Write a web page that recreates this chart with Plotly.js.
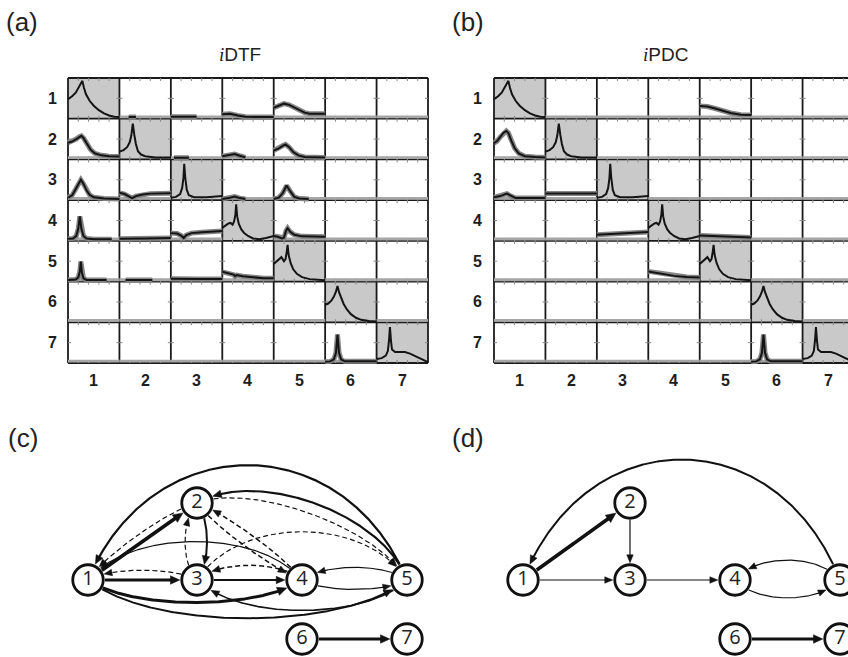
<!DOCTYPE html>
<html><head><meta charset="utf-8">
<script src="https://cdn.plot.ly/plotly-3.0.1.min.js"></script>
<style>html,body{margin:0;padding:0;background:#fff}#chart{width:848px;height:657px}</style>
</head><body><div id="chart"></div>
<script>
// ---------- DATA : spectra per cell, [frequency fraction, value] ----------
const rowLabels = ['1','2','3','4','5','6','7'];
const colLabels = ['1','2','3','4','5','6','7'];

// auto-spectra (diagonal cells, same in both panels)
const auto1 = [[0,.48],[.08,.55],[.15,.64],[.2,.74],[.24,.83],[.28,.93],[.31,.76],[.35,.6],[.42,.44],[.5,.32],[.6,.21],[.7,.13],[.8,.08],[.9,.05],[1,.04]];
const auto2 = [[0,.19],[.08,.23],[.15,.3],[.2,.42],[.23,.58],[.26,.88],[.29,.6],[.32,.38],[.36,.2],[.42,.12],[.5,.08],[.7,.05],[1,.05]];
const auto3 = [[0,.06],[.1,.08],[.18,.15],[.22,.3],[.245,.55],[.26,.89],[.28,.55],[.31,.25],[.35,.12],[.45,.07],[.7,.07],[1,.1]];
const auto4 = [[0,.32],[.06,.37],[.12,.43],[.16,.44],[.2,.4],[.23,.48],[.255,.65],[.27,.9],[.29,.6],[.32,.42],[.37,.28],[.42,.2],[.5,.12],[.6,.06],[.72,.04],[.85,.07],[1,.12]];
const auto5 = [[0,.43],[.06,.5],[.12,.58],[.15,.6],[.2,.5],[.23,.55],[.255,.75],[.27,.9],[.29,.65],[.33,.45],[.38,.3],[.45,.19],[.55,.11],[.7,.06],[1,.03]];
const auto6 = [[0,.43],[.06,.46],[.12,.53],[.17,.63],[.21,.75],[.24,.89],[.27,.74],[.31,.6],[.36,.45],[.42,.32],[.5,.2],[.6,.11],[.7,.06],[.85,.03],[1,.02]];
const auto7 = [[0,.1],[.1,.12],[.18,.18],[.22,.3],[.245,.6],[.26,.88],[.28,.55],[.3,.33],[.36,.27],[.45,.27],[.55,.27],[.65,.23],[.75,.17],[.85,.1],[1,.02]];

// iDTF off-diagonal
const dtf_1_2 = [[.18,.04],[.32,.04]];
const dtf_1_3 = [[0,.05],[.5,.05]];
const dtf_1_4 = [[0,.11],[.15,.12],[.3,.08],[.45,.05],[.7,.04],[1,.04]];
const dtf_1_5 = [[0,.27],[.1,.33],[.2,.37],[.3,.34],[.4,.27],[.5,.2],[.6,.15],[.7,.12],[1,.12]];
const dtf_2_1 = [[0,.41],[.08,.44],[.16,.5],[.22,.56],[.26,.58],[.3,.53],[.36,.4],[.44,.24],[.52,.15],[.65,.1],[.8,.08],[1,.07]];
const dtf_2_3 = [[.06,.04],[.35,.04]];
const dtf_2_4 = [[0,.08],[.12,.1],[.24,.13],[.34,.09],[.45,.05]];
const dtf_2_5 = [[0,.22],[.1,.27],[.18,.34],[.23,.37],[.3,.3],[.38,.18],[.48,.1],[.6,.06],[1,.05]];
const dtf_3_1 = [[0,.06],[.08,.12],[.14,.25],[.2,.4],[.25,.5],[.3,.4],[.36,.24],[.42,.13],[.5,.07],[.7,.04],[1,.03]];
const dtf_3_2 = [[0,.18],[.1,.15],[.2,.08],[.25,.05],[.32,.1],[.45,.14],[.6,.16],[1,.17]];
const dtf_3_4 = [[0,.03],[.12,.05],[.24,.09],[.34,.05],[.45,.03]];
const dtf_3_5 = [[0,.03],[.1,.06],[.18,.18],[.25,.36],[.32,.22],[.4,.08],[.5,.04],[.68,.03]];
const dtf_4_1 = [[0,.05],[.1,.06],[.16,.12],[.2,.3],[.23,.6],[.26,.3],[.3,.12],[.36,.06],[.5,.04],[.85,.04]];
const dtf_4_2 = [[0,.05],[.2,.05],[.5,.06],[1,.07]];
const dtf_4_3 = [[0,.19],[.12,.18],[.2,.13],[.25,.07],[.3,.14],[.4,.19],[.6,.21],[1,.24]];
const dtf_4_5 = [[0,.12],[.08,.1],[.16,.06],[.2,.08],[.24,.25],[.27,.31],[.32,.22],[.4,.15],[.55,.11],[1,.1]];
const dtf_5_1 = [[0,.04],[.15,.05],[.2,.1],[.23,.25],[.25,.49],[.27,.22],[.3,.08],[.36,.04],[.75,.04]];
const dtf_5_2 = [[.12,.04],[.64,.04]];
const dtf_5_3 = [[0,.07],[.2,.06],[.5,.06],[1,.06]];
const dtf_5_4 = [[0,.24],[.12,.21],[.22,.17],[.25,.13],[.28,.16],[.4,.13],[.6,.1],[.8,.08],[1,.08]];
const dtf_7_6 = [[0,.03],[.1,.04],[.17,.09],[.21,.25],[.24,.7],[.27,.25],[.31,.09],[.38,.04],[1,.04]];

// iPDC off-diagonal
const pdc_1_5 = [[0,.31],[.15,.3],[.3,.25],[.45,.19],[.6,.14],[.8,.1],[1,.09]];
const pdc_2_1 = [[0,.4],[.06,.45],[.12,.55],[.18,.65],[.24,.7],[.28,.65],[.34,.45],[.4,.28],[.48,.15],[.6,.08],[.8,.06],[1,.05]];
const pdc_3_1 = [[0,.07],[.12,.1],[.25,.16],[.33,.1],[.42,.05],[1,.05]];
const pdc_3_2 = [[0,.16],[.5,.16],[1,.16]];
const pdc_4_3 = [[0,.15],[.3,.17],[.6,.19],[1,.22]];
const pdc_4_5 = [[0,.13],[.3,.12],[.6,.1],[1,.08]];
const pdc_5_4 = [[0,.25],[.15,.22],[.3,.18],[.5,.14],[.75,.11],[1,.1]];
const pdc_7_6 = [[0,.03],[.1,.04],[.17,.09],[.21,.25],[.24,.7],[.27,.25],[.31,.09],[.38,.04],[1,.04]];

const autoCells = [[1,1,auto1],[2,2,auto2],[3,3,auto3],[4,4,auto4],[5,5,auto5],[6,6,auto6],[7,7,auto7]];
const dtfCells = [[1,2,dtf_1_2],[1,3,dtf_1_3],[1,4,dtf_1_4],[1,5,dtf_1_5],[2,1,dtf_2_1],[2,3,dtf_2_3],[2,4,dtf_2_4],[2,5,dtf_2_5],
  [3,1,dtf_3_1],[3,2,dtf_3_2],[3,4,dtf_3_4],[3,5,dtf_3_5],[4,1,dtf_4_1],[4,2,dtf_4_2],[4,3,dtf_4_3],[4,5,dtf_4_5],
  [5,1,dtf_5_1],[5,2,dtf_5_2],[5,3,dtf_5_3],[5,4,dtf_5_4],[7,6,dtf_7_6]];
const pdcCells = [[1,5,pdc_1_5],[2,1,pdc_2_1],[3,1,pdc_3_1],[3,2,pdc_3_2],[4,3,pdc_4_3],[4,5,pdc_4_5],[5,4,pdc_5_4],[7,6,pdc_7_6]];

// ---------- network graphs ----------
const nodeIds = ['1','2','3','4','5','6','7'];
const nodeXc = [88,197,197,302,407,302,407];
const nodeYc = [580,503,580,580,580,639,639];
const nodeXd = [523,630,630,735,840,735,840];
const nodeYd = [580,503,580,580,580,639,639];

const edgeFromC  = [5,5,1,2,2,3,4,3,1,3,4,2,4,2,3,4,5,1,1,5,6];
const edgeToC    = [1,2,2,1,3,2,1,1,3,4,3,4,2,5,5,5,4,4,5,3,7];
const edgeWidthC = [2.2,2.2,3.6,1.2,2,1.2,1.2,1.2,3,2,1.5,1.5,1.5,1.2,1.2,1.2,1.2,3,2,1.6,3];
const edgeDashC  = [0,0,0,1,0,1,0,1,0,0,1,1,1,1,1,0,0,0,0,0,0];
const edgeBendC  = [0.72,0.36,0,0.12,-0.26,-0.31,0.36,0.18,0,0,0.28,0.1,0.1,-0.26,-0.46,0.18,0.24,0.21,0.24,-0.29,0];

const edgeFromD  = [5,1,2,1,3,5,4,6];
const edgeToD    = [1,2,3,3,4,4,5,7];
const edgeWidthD = [2,3.6,1.2,1.2,1.2,1.2,1.2,3];
const edgeDashD  = [0,0,0,0,0,0,0,0];
const edgeBendD  = [0.76,0,0,0,0,0.38,0.34,0];

// ---------- LAYOUT GEOMETRY ----------
const W = 848, H = 657;
const cw = 360/7, ch = 285/7, pad = 0.05;
const gridTop = 78, gridBot = 363, aLeft = 68, bLeft = 494;
const yDom = [1-(gridBot+pad*ch)/H, 1-(gridTop-pad*ch)/H];

const traces = [];
const shapes = [];
const annotations = [];
const labFont = {family:'Liberation Sans, Arial, sans-serif', size:16, color:'#1e1e1e'};

function addPanel(xa, ya, offCells) {
  const xr = xa, yr = ya;
  for (let i = 1; i <= 7; i++) {
    shapes.push({type:'rect', xref:xr, yref:yr, x0:i-1, x1:i, y0:7-i, y1:8-i, fillcolor:'#c8c9c8', line:{width:0}, layer:'below'});
  }
  const bx = [], by = [];
  for (let k = 0; k <= 7; k++) { bx.push(0,7,null); by.push(k,k,null); bx.push(k,k,null); by.push(0,7,null); }
  traces.push({type:'scatter', mode:'lines', x:bx, y:by, xaxis:xa, yaxis:ya, line:{color:'#1a1a1a', width:1.8}, hoverinfo:'skip'});
  const tx = [], ty = [];
  const tl = 3/ch, tw = 3/cw;
  for (let k = 0; k <= 7; k++) for (let j = 0; j < 7; j++) for (const f of [.2,.4,.6,.8]) {
    tx.push(j+f, j+f, null); ty.push(k-(k>0?tl:0), k+(k<7?tl:0), null);
  }
  for (let k = 0; k <= 7; k++) for (let r = 0; r < 7; r++) {
    tx.push(k-(k>0?tw:0), k+(k<7?tw:0), null); ty.push(r+.5, r+.5, null);
  }
  traces.push({type:'scatter', mode:'lines', x:tx, y:ty, xaxis:xa, yaxis:ya, line:{color:'#888', width:1}, hoverinfo:'skip'});
  const zx = [], zy = [];
  for (let r = 1; r <= 7; r++) for (let c = 1; c <= 7; c++) {
    if (r === c) continue;
    zx.push(c-1, c, null); zy.push(7-r+.045, 7-r+.045, null);
  }
  traces.push({type:'scatter', mode:'lines', x:zx, y:zy, xaxis:xa, yaxis:ya, line:{color:'#a6a6a6', width:2.8}, hoverinfo:'skip'});
  function pts(cells) {
    const X = [], Y = [];
    for (const [r, c, arr] of cells) {
      for (const [f, v] of arr) { X.push(c-1+f); Y.push(7-r+v); }
      X.push(null); Y.push(null);
    }
    return [X, Y];
  }
  const [ox, oy] = pts(offCells);
  traces.push({type:'scatter', mode:'lines', x:ox, y:oy, xaxis:xa, yaxis:ya, line:{color:'#858585', width:5}, hoverinfo:'skip'});
  traces.push({type:'scatter', mode:'lines', x:ox, y:oy, xaxis:xa, yaxis:ya, line:{color:'#141414', width:2}, hoverinfo:'skip'});
  const [dx, dy] = pts(autoCells);
  traces.push({type:'scatter', mode:'lines', x:dx, y:dy, xaxis:xa, yaxis:ya, line:{color:'#141414', width:2}, hoverinfo:'skip'});
  const labX = xa === 'x' ? 52 : 478;
  rowLabels.forEach((t, i) => annotations.push({xref:'paper', yref:yr, x:labX/W, y:7-i-.5, text:'<b>'+t+'</b>', showarrow:false, xanchor:'center', yanchor:'middle', font:labFont}));
  colLabels.forEach((t, j) => annotations.push({xref:xr, yref:'paper', x:j+.5, y:1-380/H, text:'<b>'+t+'</b>', showarrow:false, xanchor:'center', yanchor:'middle', font:labFont}));
}

addPanel('x', 'y', dtfCells);
addPanel('x2', 'y2', pdcCells);

// network (cubic curves, bend = apex offset*2/chord)
function addNet(nx, ny, from, to, widths, dashes, bends) {
  const R = 16.8;
  const hx = [], hy = [];
  for (let e = 0; e < from.length; e++) {
    const a = from[e]-1, b = to[e]-1, w = widths[e];
    const P0 = [nx[a], ny[a]], P3 = [nx[b], ny[b]];
    const ddx = P3[0]-P0[0], ddy = P3[1]-P0[1], L = Math.hypot(ddx, ddy);
    const nvx = -ddy/L, nvy = ddx/L;
    const k = bends[e]*L/2/0.75;
    const C1 = [P0[0]+ddx*0.2+nvx*k, P0[1]+ddy*0.2+nvy*k];
    const C2 = [P3[0]-ddx*0.2+nvx*k, P3[1]-ddy*0.2+nvy*k];
    const N = 500, P = [];
    for (let i = 0; i <= N; i++) {
      const t = i/N, u = 1-t;
      const b0 = u*u*u, b1 = 3*u*u*t, b2 = 3*u*t*t, b3 = t*t*t;
      P.push([b0*P0[0]+b1*C1[0]+b2*C2[0]+b3*P3[0], b0*P0[1]+b1*C1[1]+b2*C2[1]+b3*P3[1]]);
    }
    const d0 = p => Math.hypot(p[0]-P0[0], p[1]-P0[1]);
    const d3 = p => Math.hypot(p[0]-P3[0], p[1]-P3[1]);
    let s = 0; while (s < N && d0(P[s]) < R) s++;
    const AL = 7 + 0.8*w, HW = 2.6 + 0.55*w;
    let ti = N; while (ti > 0 && d3(P[ti]) < R+0.3) ti--;
    let bi = ti; while (bi > 0 && d3(P[bi]) < R+0.3+AL) bi--;
    const T = P[ti], B = P[bi];
    const ux = (T[0]-B[0]), uy = (T[1]-B[1]), ul = Math.hypot(ux, uy);
    const ex = ux/ul, ey = uy/ul;
    const Bc = [T[0]-ex*AL, T[1]-ey*AL];
    const lx = [], ly = [];
    for (let i = s; i <= bi; i++) { lx.push(P[i][0]); ly.push(P[i][1]); }
    lx.push(Bc[0]+ex*1.5); ly.push(Bc[1]+ey*1.5);
    traces.push({type:'scatter', mode:'lines', x:lx, y:ly, xaxis:'x3', yaxis:'y3',
      line:{color:'#111', width:w, dash: dashes[e] ? '5px,3px' : 'solid'}, hoverinfo:'skip'});
    hx.push(T[0], Bc[0]-ey*HW, Bc[0]+ey*HW, T[0], null);
    hy.push(T[1], Bc[1]+ex*HW, Bc[1]-ex*HW, T[1], null);
  }
  traces.push({type:'scatter', mode:'lines', x:hx, y:hy, xaxis:'x3', yaxis:'y3', fill:'toself', fillcolor:'#111', line:{color:'#111', width:0.5}, hoverinfo:'skip'});
  traces.push({type:'scatter', mode:'markers+text', x:nx, y:ny, text:nodeIds, textposition:'middle center', xaxis:'x3', yaxis:'y3', cliponaxis:false,
    marker:{size:30.5, color:'#fff', line:{color:'#111', width:2.8}},
    textfont:{family:'Open Sans, DejaVu Sans, sans-serif', size:20, color:'#222'}, hoverinfo:'skip'});
}
addNet(nodeXc, nodeYc, edgeFromC, edgeToC, edgeWidthC, edgeDashC, edgeBendC);
addNet(nodeXd, nodeYd, edgeFromD, edgeToD, edgeWidthD, edgeDashD, edgeBendD);

// panel letters and titles
const lf = {family:'Liberation Sans, Arial, sans-serif', size:26, color:'#222'};
[['(a)',4,22],['(b)',450,22],['(c)',6,438],['(d)',450,438]].forEach(([t,x,y]) =>
  annotations.push({xref:'paper', yref:'paper', x:x/W, y:1-y/H, text:t, showarrow:false, xanchor:'left', yanchor:'middle', font:lf}));
const tf = {family:'Liberation Sans, Arial, sans-serif', size:19, color:'#222'};
annotations.push({xref:'paper', yref:'paper', x:240/W, y:1-55/H, text:'<i><span style="font-family:Liberation Serif">i</span></i>DTF', showarrow:false, xanchor:'center', yanchor:'middle', font:tf});
annotations.push({xref:'paper', yref:'paper', x:665/W, y:1-55/H, text:'<i><span style="font-family:Liberation Serif">i</span></i>PDC', showarrow:false, xanchor:'center', yanchor:'middle', font:tf});

const hidden = {visible:false, fixedrange:true};
const layout = {
  width:W, height:H, margin:{l:0, r:0, t:0, b:0}, showlegend:false,
  paper_bgcolor:'#fff', plot_bgcolor:'rgba(0,0,0,0)',
  xaxis: Object.assign({domain:[(aLeft-pad*cw)/W, (aLeft+7*cw+pad*cw)/W], range:[-pad, 7+pad]}, hidden),
  yaxis: Object.assign({domain:yDom, range:[-pad, 7+pad]}, hidden),
  xaxis2: Object.assign({domain:[(bLeft-pad*cw)/W, 1], range:[-pad, (W-bLeft)/cw]}, hidden),
  yaxis2: Object.assign({domain:yDom, range:[-pad, 7+pad]}, hidden),
  xaxis3: Object.assign({domain:[0, 1], range:[0, W]}, hidden),
  yaxis3: Object.assign({domain:[0, 243/H], range:[H, H-243]}, hidden),
  shapes, annotations
};
Plotly.newPlot('chart', traces, layout, {staticPlot:true, displayModeBar:false});
</script></body></html>
